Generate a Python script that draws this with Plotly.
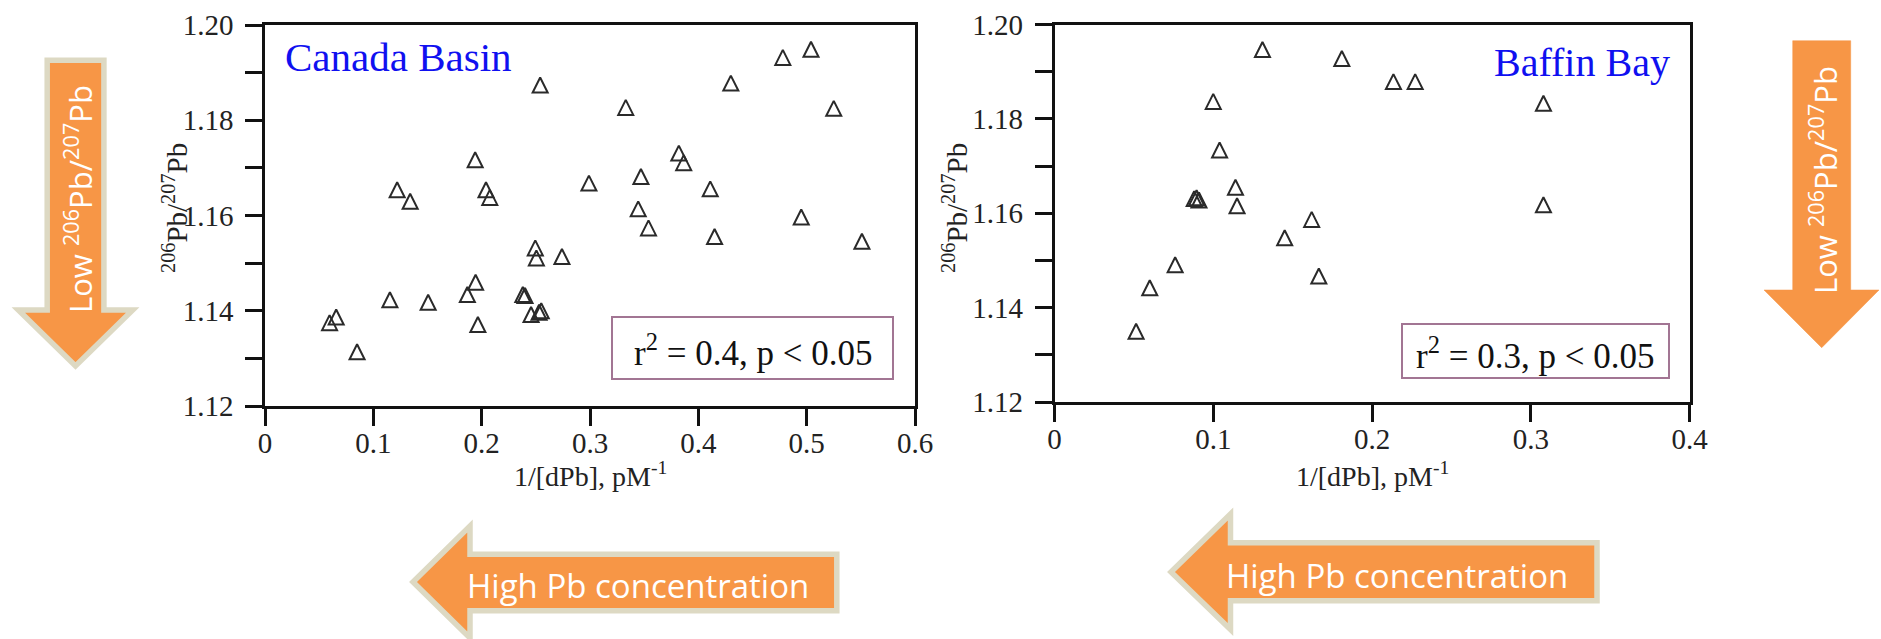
import plotly.graph_objects as go

W, H = 1881, 639

# ---------------- data ----------------
cb_x = [0.254, 0.194, 0.122, 0.134, 0.204, 0.2075, 0.478, 0.504, 0.430, 0.333,
        0.525, 0.382, 0.3865, 0.299, 0.347, 0.411, 0.3445, 0.495, 0.354, 0.415,
        0.551, 0.0596, 0.0657, 0.085, 0.1153, 0.1506, 0.1868, 0.1944, 0.1965,
        0.238, 0.240, 0.2456, 0.253, 0.255, 0.2495, 0.2505, 0.2741]
cb_y = [1.1874, 1.1717, 1.1654, 1.1630, 1.1654, 1.1638, 1.1932, 1.1949, 1.1878, 1.1827,
        1.1825, 1.1731, 1.1711, 1.1668, 1.1682, 1.1656, 1.1614, 1.1597, 1.1574, 1.1556,
        1.1546, 1.1375, 1.1387, 1.1314, 1.1423, 1.1418, 1.1434, 1.1460, 1.1371,
        1.1434, 1.1432, 1.1392, 1.1397, 1.1400, 1.1532, 1.1511, 1.1514]

bb_x = [0.131, 0.181, 0.100, 0.104, 0.114, 0.088, 0.0895, 0.091, 0.115, 0.162,
        0.145, 0.076, 0.060, 0.1665, 0.0514, 0.2135, 0.2272, 0.308, 0.308]
bb_y = [1.1947, 1.1928, 1.1837, 1.1734, 1.1655, 1.1631, 1.1633, 1.1628, 1.1616, 1.1587,
        1.1548, 1.1491, 1.1442, 1.1467, 1.1350, 1.1879, 1.1879, 1.1833, 1.1618]

y_ticks = [1.12, 1.13, 1.14, 1.15, 1.16, 1.17, 1.18, 1.19, 1.20]
y_ticktext = ["1.12", "", "1.14", "", "1.16", "", "1.18", "", "1.20"]
x1_ticks = [0, 0.1, 0.2, 0.3, 0.4, 0.5, 0.6]
x1_ticktext = ["0", "0.1", "0.2", "0.3", "0.4", "0.5", "0.6"]
x2_ticks = [0, 0.1, 0.2, 0.3, 0.4]
x2_ticktext = ["0", "0.1", "0.2", "0.3", "0.4"]

panel_titles = ["Canada Basin", "Baffin Bay"]
stats_text = ["r<sup>2</sup> = 0.4, p < 0.05", "r<sup>2</sup> = 0.3, p < 0.05"]
x_title = "1/[dPb], pM<sup>-1</sup>"
y_title = "<sup>206</sup>Pb/<sup>207</sup>Pb"
arrow_v_text = "Low <sup>206</sup>Pb/<sup>207</sup>Pb"
arrow_h_text = "High Pb concentration"

# ---------------- helpers ----------------
def px(x):
    return x / W

def py(y):
    return 1 - y / H

def path(points):
    return "M " + " L ".join(f"{px(a):.5f},{py(b):.5f}" for a, b in points) + " Z"

SERIF = "Liberation Serif, Times New Roman, serif"
SANS = "Open Sans, Lato, sans-serif"
ORANGE = "#F79646"
TAN = "#DDD9C3"
MSIZE = 15

marker = dict(symbol="arrow-down-open", angle=180, standoff=MSIZE / 2, size=MSIZE,
              color="#2a2a2a", line=dict(width=2, color="#2a2a2a"))

fig = go.Figure()
fig.add_trace(go.Scatter(x=cb_x, y=cb_y, mode="markers", marker=marker,
                         xaxis="x", yaxis="y", showlegend=False))
fig.add_trace(go.Scatter(x=bb_x, y=bb_y, mode="markers", marker=marker,
                         xaxis="x2", yaxis="y2", showlegend=False))

axis_common = dict(showline=True, linewidth=2.5, linecolor="#111", mirror=True,
                   ticks="outside", ticklen=17, tickwidth=2.5, tickcolor="#111",
                   showgrid=False, zeroline=False, automargin=False,
                   tickfont=dict(family=SERIF, size=29, color="#222"))

fig.update_layout(
    width=W, height=H, margin=dict(l=0, r=0, t=0, b=0, autoexpand=False),
    paper_bgcolor="white", plot_bgcolor="white",
    xaxis=dict(domain=[px(265), px(915)], range=[0, 0.6], tickvals=x1_ticks,
               ticktext=x1_ticktext, anchor="y", ticklabelstandoff=-8, **axis_common),
    yaxis=dict(domain=[py(406), py(25)], range=[1.12, 1.20], tickvals=y_ticks,
               ticktext=y_ticktext, anchor="x", ticklabelstandoff=6, **axis_common),
    xaxis2=dict(domain=[px(1054.5), px(1689.5)], range=[0, 0.4], tickvals=x2_ticks,
                ticktext=x2_ticktext, anchor="y2", ticklabelstandoff=-8, **axis_common),
    yaxis2=dict(domain=[py(402), py(24.5)], range=[1.12, 1.20], tickvals=y_ticks,
                ticktext=y_ticktext, anchor="x2", ticklabelstandoff=6, **axis_common),
)

shapes = []
# stats boxes
for (x0, y0, x1, y1) in [(612, 317, 893, 379), (1402, 324, 1669, 378)]:
    shapes.append(dict(type="rect", xref="paper", yref="paper",
                       x0=px(x0), x1=px(x1), y0=py(y1), y1=py(y0),
                       line=dict(color="#A27593", width=2), fillcolor="rgba(0,0,0,0)"))

# orange arrows
left_v = [(47.2, 60.3), (103.9, 60.3), (103.9, 310), (132.7, 310), (75.5, 366),
          (18.3, 310), (47.2, 310)]
right_v = [(1792.7, 40.7), (1850.7, 40.7), (1850.7, 290), (1879, 290), (1821.7, 347.7),
           (1764, 290), (1792.7, 290)]
bot_l = [(413, 582), (470, 526), (470, 554.2), (836.8, 554.2), (836.8, 610.8),
         (470, 610.8), (470, 638)]
bot_r = [(1171, 572), (1230.5, 514), (1230.5, 542.7), (1597, 542.7), (1597, 600.7),
         (1230.5, 600.7), (1230.5, 629.5)]
for pts, border in [(left_v, True), (right_v, False), (bot_l, True), (bot_r, True)]:
    shapes.append(dict(type="path", xref="paper", yref="paper", path=path(pts),
                       fillcolor=ORANGE,
                       line=dict(color=TAN if border else ORANGE, width=5.5 if border else 0.5),
                       layer="below"))
fig.update_layout(shapes=shapes)

ann = []
# panel titles
ann.append(dict(text=panel_titles[0], x=px(283), y=py(57), xref="paper", yref="paper",
                xanchor="left", yanchor="middle", showarrow=False,
                font=dict(family=SERIF, size=41, color="#1010F0")))
ann.append(dict(text=panel_titles[1], x=px(1672), y=py(63), xref="paper", yref="paper",
                xanchor="right", yanchor="middle", showarrow=False,
                font=dict(family=SERIF, size=40, color="#1010F0")))
# stats
for t, cx, cy in [(stats_text[0], 753, 350), (stats_text[1], 1535, 353)]:
    ann.append(dict(text=t, x=px(cx), y=py(cy), xref="paper", yref="paper",
                    xanchor="center", yanchor="middle", showarrow=False,
                    font=dict(family=SERIF, size=35, color="#111")))
# axis titles
for cx in [590, 1372]:
    ann.append(dict(text=x_title, x=px(cx), y=py(474), xref="paper", yref="paper",
                    xanchor="center", yanchor="middle", showarrow=False,
                    font=dict(family=SERIF, size=28, color="#222")))
for cx in [175, 955]:
    ann.append(dict(text=y_title, x=px(cx), y=py(208), xref="paper", yref="paper",
                    xanchor="center", yanchor="middle", showarrow=False, textangle=-90,
                    font=dict(family=SERIF, size=29, color="#222")))
# arrow texts
for cx, cy in [(78, 199), (1823, 180)]:
    ann.append(dict(text=arrow_v_text, x=px(cx), y=py(cy), xref="paper", yref="paper",
                    xanchor="center", yanchor="middle", showarrow=False, textangle=-90,
                    font=dict(family=SANS, size=31, color="white")))
for cx, cy in [(638, 585), (1397, 575)]:
    ann.append(dict(text=arrow_h_text, x=px(cx), y=py(cy), xref="paper", yref="paper",
                    xanchor="center", yanchor="middle", showarrow=False,
                    font=dict(family=SANS, size=33, color="white")))
fig.update_layout(annotations=ann)

fig.write_html("out.html", config={"displayModeBar": False},
               post_script="document.body.style.margin='0';document.body.style.overflow='hidden';")
